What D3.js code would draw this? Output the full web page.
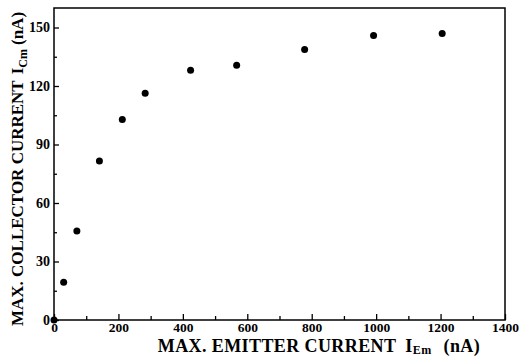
<!DOCTYPE html>
<html>
<head>
<meta charset="utf-8">
<script src="https://cdn.jsdelivr.net/npm/d3@7"></script>
<style>
  body { margin: 0; background: #fff; }
  text { font-family: "Liberation Serif", "Times New Roman", serif; font-weight: bold; }
</style>
</head>
<body>
<script>
// data
var emitter = [0, 30, 71, 141, 212, 283, 424, 567, 778, 992, 1205];
var collector = [0, 19.3, 45.7, 81.6, 102.8, 116.3, 128.1, 130.7, 138.7, 145.9, 146.9];
var xTicks = [0, 200, 400, 600, 800, 1000, 1200, 1400];
var yTicks = [0, 30, 60, 90, 120, 150];

var w = 521, h = 356;
var padL = 54, padR = 505, padT = 8, padB = 320;

var svg = d3.select("body").append("svg")
  .attr("width", w)
  .attr("height", h);

var x = d3.scaleLinear().domain([0, 1400]).range([padL, padR]);
var y = d3.scaleLinear().domain([0, 160]).range([padB, padT]);

// minor ticks first
svg.append("g")
  .attr("transform", "translate(0," + padB + ")")
  .call(d3.axisBottom(x).tickValues(d3.range(100, 1400, 200)).tickSizeInner(-4).tickSizeOuter(0).tickFormat(""));
svg.append("g")
  .attr("transform", "translate(" + padL + ",0)")
  .call(d3.axisLeft(y).tickValues(d3.range(15, 160, 30)).tickSizeInner(-3).tickSizeOuter(0).tickFormat(""));

// major axes
var xAxis = svg.append("g")
  .attr("transform", "translate(0," + padB + ")")
  .call(d3.axisBottom(x).tickValues(xTicks).tickFormat(d3.format("d")).tickSizeInner(-6).tickSizeOuter(0).tickPadding(2));
xAxis.selectAll("text").attr("font-size", 13.5);

var yAxis = svg.append("g")
  .attr("transform", "translate(" + padL + ",0)")
  .call(d3.axisLeft(y).tickValues(yTicks).tickFormat(d3.format("d")).tickSizeInner(-5).tickSizeOuter(0).tickPadding(4));
yAxis.selectAll("text").attr("font-size", 14);

svg.selectAll(".domain").remove();
svg.selectAll(".tick line").attr("stroke", "#000").attr("stroke-width", 1.3);

// frame
svg.append("rect")
  .attr("x", padL).attr("y", padT)
  .attr("width", padR - padL).attr("height", padB - padT)
  .attr("fill", "none").attr("stroke", "#000").attr("stroke-width", 1.5);

// points
svg.selectAll("circle")
  .data(emitter)
  .enter()
  .append("circle")
  .attr("cx", function(d) { return x(d); })
  .attr("cy", function(d, i) { return y(collector[i]); })
  .attr("r", 3.5)
  .attr("fill", "#000");

// x title
var xt = svg.append("text")
  .attr("x", 319).attr("y", 352)
  .attr("text-anchor", "middle")
  .attr("font-size", 18)
  .attr("letter-spacing", 0.4);
xt.append("tspan").text("MAX. EMITTER CURRENT");
xt.append("tspan").attr("dx", 9).text("I");
xt.append("tspan").attr("font-size", 12).attr("dy", 2).text("Em");
xt.append("tspan").attr("dx", 12).attr("dy", -2).text("(nA)");

// y title
var yt = svg.append("text")
  .attr("transform", "translate(23,169) rotate(-90)")
  .attr("text-anchor", "middle")
  .attr("font-size", 17);
yt.append("tspan").text("MAX. COLLECTOR CURRENT");
yt.append("tspan").attr("dx", 6).text("I");
yt.append("tspan").attr("font-size", 12).attr("dy", 4).text("Cm");
yt.append("tspan").attr("dx", 4).attr("dy", -4).text("(nA)");
</script>
</body>
</html>
